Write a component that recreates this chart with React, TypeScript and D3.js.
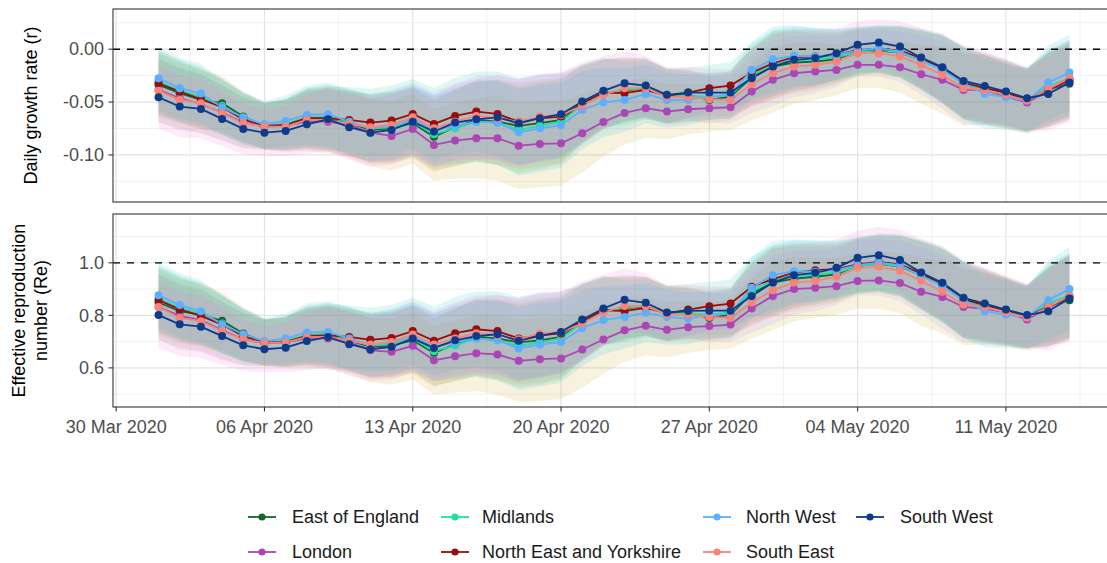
import React from 'react';
import * as d3 from 'd3';

// regions in legend / drawing order
const regions = [
  'East of England',
  'London',
  'Midlands',
  'North East and Yorkshire',
  'North West',
  'South East',
  'South West',
];
const lineColors = ['#15652a', '#ad45b5', '#1fe0a2', '#990d0d', '#58b0ff', '#fa8378', '#0c3b8c'];
const ribbonColors = ['#F8766D', '#C49A00', '#53B400', '#00C094', '#00B6EB', '#A58AFF', '#FB61D7'];

const dates = d3.utcDays(new Date(Date.UTC(2020, 3, 1)), new Date(Date.UTC(2020, 4, 15)));
const tickDates = d3.utcMondays(new Date(Date.UTC(2020, 2, 30)), new Date(Date.UTC(2020, 4, 12)));

// daily growth rate r, 1 Apr .. 14 May
const growthEast = [-0.0338, -0.0416, -0.048, -0.0511, -0.0637, -0.0726, -0.0716, -0.0663, -0.0663, -0.07, -0.0763, -0.0748, -0.07, -0.0827, -0.0738, -0.0669, -0.0685, -0.0726, -0.07, -0.0669, -0.0517, -0.0423, -0.0391, -0.0369, -0.0442, -0.0432, -0.048, -0.0448, -0.0265, -0.0164, -0.0126, -0.0117, -0.0095, -0.0022, -0.0013, -0.0032, -0.0101, -0.0189, -0.0322, -0.0369, -0.0416, -0.048, -0.0379, -0.0328];
const growthLondon = [-0.0385, -0.0464, -0.0517, -0.0599, -0.0694, -0.0732, -0.0726, -0.0685, -0.0685, -0.0716, -0.0789, -0.082, -0.0754, -0.0905, -0.0864, -0.0842, -0.0842, -0.0912, -0.0896, -0.089, -0.0795, -0.0688, -0.0603, -0.0558, -0.059, -0.0568, -0.0558, -0.0549, -0.0401, -0.029, -0.0227, -0.0211, -0.0196, -0.0148, -0.0148, -0.017, -0.0237, -0.029, -0.0385, -0.0385, -0.0448, -0.0505, -0.0391, -0.0297];
const growthMidlands = [-0.0306, -0.0391, -0.0448, -0.0536, -0.065, -0.0726, -0.0707, -0.0644, -0.0637, -0.0694, -0.0748, -0.0738, -0.0685, -0.0805, -0.0748, -0.0685, -0.0694, -0.0763, -0.0726, -0.0685, -0.0527, -0.0423, -0.0385, -0.0369, -0.0442, -0.0442, -0.0448, -0.0432, -0.0252, -0.0139, -0.0107, -0.0095, -0.0076, -0.0032, -0.0006, -0.0032, -0.0101, -0.0189, -0.0322, -0.0385, -0.0432, -0.048, -0.0353, -0.0274];
const growthNorthEast = [-0.0322, -0.0401, -0.0473, -0.0549, -0.0663, -0.0726, -0.0716, -0.0653, -0.0653, -0.0669, -0.0694, -0.0675, -0.0612, -0.0707, -0.0631, -0.059, -0.0612, -0.0685, -0.0653, -0.0637, -0.0511, -0.041, -0.0416, -0.0385, -0.0442, -0.041, -0.0369, -0.0344, -0.0221, -0.0133, -0.0076, -0.0069, -0.0054, -0.0006, 0.0, -0.0013, -0.0085, -0.018, -0.0316, -0.0369, -0.041, -0.048, -0.0385, -0.029];
const growthNorthWest = [-0.0274, -0.0369, -0.042, -0.0549, -0.0644, -0.071, -0.0678, -0.0622, -0.0615, -0.0685, -0.0748, -0.0726, -0.0663, -0.077, -0.0726, -0.0685, -0.0694, -0.0786, -0.0748, -0.0719, -0.0574, -0.0502, -0.048, -0.0423, -0.048, -0.048, -0.0448, -0.0432, -0.0196, -0.0095, -0.0063, -0.0069, -0.0054, -0.0013, 0.0009, -0.0022, -0.0107, -0.0196, -0.0322, -0.0423, -0.0454, -0.0486, -0.0316, -0.0221];
const growthSouthEast = [-0.0394, -0.048, -0.0511, -0.0606, -0.07, -0.0732, -0.0732, -0.0669, -0.0669, -0.0707, -0.0738, -0.0716, -0.0644, -0.0748, -0.0685, -0.0631, -0.0653, -0.0685, -0.0637, -0.0622, -0.0536, -0.0432, -0.0369, -0.0369, -0.0454, -0.0454, -0.0473, -0.048, -0.0331, -0.0227, -0.0164, -0.0148, -0.0117, -0.0038, -0.0038, -0.0069, -0.0148, -0.0243, -0.0369, -0.0385, -0.0432, -0.0486, -0.0375, -0.0274];
const growthSouthWest = [-0.0454, -0.0543, -0.0565, -0.0659, -0.0754, -0.0789, -0.0773, -0.071, -0.0663, -0.0738, -0.0789, -0.0763, -0.0685, -0.0779, -0.0694, -0.0663, -0.0644, -0.07, -0.0653, -0.0615, -0.0495, -0.0394, -0.0322, -0.0344, -0.0432, -0.041, -0.041, -0.041, -0.0274, -0.0164, -0.0101, -0.0085, -0.0038, 0.0041, 0.0063, 0.0025, -0.0079, -0.017, -0.03, -0.0347, -0.0401, -0.0464, -0.0423, -0.0316];
// half width of the credible interval ribbon for r
const growthHalfWidth = [0.03, 0.029, 0.028, 0.026, 0.024, 0.022, 0.024, 0.028, 0.03, 0.031, 0.032, 0.033, 0.033, 0.034, 0.036, 0.038, 0.04, 0.041, 0.041, 0.04, 0.037, 0.033, 0.03, 0.028, 0.026, 0.024, 0.022, 0.022, 0.027, 0.031, 0.029, 0.027, 0.024, 0.022, 0.022, 0.024, 0.028, 0.032, 0.034, 0.033, 0.031, 0.03, 0.035, 0.036];

// effective reproduction number Re
const reEast = [0.849, 0.816, 0.803, 0.779, 0.731, 0.697, 0.699, 0.718, 0.719, 0.705, 0.68, 0.686, 0.705, 0.657, 0.69, 0.718, 0.712, 0.697, 0.705, 0.718, 0.775, 0.816, 0.826, 0.835, 0.807, 0.811, 0.79, 0.803, 0.883, 0.925, 0.94, 0.947, 0.956, 0.989, 0.996, 0.986, 0.953, 0.915, 0.858, 0.839, 0.817, 0.794, 0.835, 0.858];
const reLondon = [0.832, 0.798, 0.782, 0.743, 0.709, 0.694, 0.697, 0.712, 0.712, 0.697, 0.667, 0.661, 0.684, 0.629, 0.644, 0.656, 0.651, 0.627, 0.633, 0.636, 0.67, 0.708, 0.743, 0.76, 0.745, 0.755, 0.759, 0.765, 0.826, 0.874, 0.9, 0.905, 0.911, 0.931, 0.933, 0.923, 0.89, 0.87, 0.832, 0.826, 0.811, 0.784, 0.829, 0.87];
const reMidlands = [0.864, 0.829, 0.807, 0.769, 0.724, 0.697, 0.703, 0.727, 0.729, 0.708, 0.686, 0.69, 0.712, 0.663, 0.686, 0.712, 0.705, 0.684, 0.697, 0.712, 0.773, 0.816, 0.829, 0.835, 0.807, 0.807, 0.803, 0.811, 0.89, 0.934, 0.949, 0.956, 0.963, 0.986, 0.997, 0.987, 0.953, 0.915, 0.858, 0.832, 0.813, 0.794, 0.845, 0.877];
const reNorthEast = [0.858, 0.823, 0.798, 0.765, 0.721, 0.697, 0.699, 0.722, 0.724, 0.718, 0.707, 0.714, 0.74, 0.703, 0.732, 0.747, 0.74, 0.712, 0.724, 0.731, 0.778, 0.82, 0.816, 0.829, 0.807, 0.822, 0.835, 0.845, 0.909, 0.938, 0.963, 0.972, 0.976, 0.994, 1.004, 0.994, 0.959, 0.921, 0.862, 0.839, 0.82, 0.797, 0.832, 0.87];
const reNorthWest = [0.877, 0.839, 0.816, 0.765, 0.728, 0.702, 0.712, 0.735, 0.737, 0.712, 0.686, 0.697, 0.721, 0.68, 0.697, 0.712, 0.705, 0.674, 0.689, 0.699, 0.752, 0.782, 0.794, 0.81, 0.794, 0.788, 0.801, 0.807, 0.905, 0.953, 0.968, 0.966, 0.972, 0.991, 1.001, 0.991, 0.95, 0.912, 0.858, 0.816, 0.803, 0.793, 0.858, 0.9];
const reSouthEast = [0.832, 0.79, 0.778, 0.74, 0.708, 0.695, 0.697, 0.717, 0.718, 0.703, 0.689, 0.699, 0.727, 0.689, 0.712, 0.732, 0.724, 0.709, 0.731, 0.737, 0.769, 0.811, 0.836, 0.835, 0.803, 0.803, 0.794, 0.79, 0.849, 0.896, 0.925, 0.931, 0.947, 0.981, 0.985, 0.97, 0.931, 0.89, 0.841, 0.832, 0.811, 0.792, 0.832, 0.874];
const reSouthWest = [0.801, 0.766, 0.757, 0.721, 0.686, 0.671, 0.677, 0.702, 0.718, 0.69, 0.671, 0.68, 0.712, 0.676, 0.705, 0.721, 0.728, 0.703, 0.722, 0.737, 0.784, 0.826, 0.859, 0.848, 0.811, 0.817, 0.818, 0.818, 0.874, 0.925, 0.953, 0.962, 0.981, 1.019, 1.029, 1.011, 0.963, 0.924, 0.867, 0.845, 0.822, 0.801, 0.816, 0.864];
const reHalfWidth = [0.125, 0.122, 0.118, 0.11, 0.1, 0.088, 0.095, 0.11, 0.118, 0.12, 0.122, 0.125, 0.128, 0.13, 0.138, 0.145, 0.152, 0.158, 0.16, 0.155, 0.145, 0.13, 0.12, 0.112, 0.105, 0.098, 0.092, 0.092, 0.115, 0.13, 0.122, 0.115, 0.108, 0.105, 0.108, 0.115, 0.13, 0.14, 0.145, 0.138, 0.128, 0.12, 0.15, 0.16];

const growthSeries = [growthEast, growthLondon, growthMidlands, growthNorthEast, growthNorthWest, growthSouthEast, growthSouthWest];
const reSeries = [reEast, reLondon, reMidlands, reNorthEast, reNorthWest, reSouthEast, reSouthWest];

const growthTicks = [-0.1, -0.05, 0];
const growthMinor = [-0.125, -0.075, -0.025, 0.025];
const reTicks = [0.6, 0.8, 1.0];
const reMinor = [0.5, 0.7, 0.9, 1.1];

const W = 1107;
const H = 563;
const FONT = "'Liberation Sans', Arial, sans-serif";
const FS = 18;
const left = 113;
const right = 1115;

const span = +dates[dates.length - 1] - +dates[0];
const x = d3.scaleUtc()
  .domain([new Date(+dates[0] - 0.05 * span), new Date(+dates[dates.length - 1] + 0.05 * span)])
  .range([left, right]);

const minorDates = tickDates.map(d => d3.utcHour.offset(d, 84));
const fmtDate = d3.utcFormat('%d %b %Y');

interface PanelProps {
  top: number;
  bottom: number;
  domain: [number, number];
  series: number[][];
  half: number[];
  ticks: number[];
  minor: number[];
  digits: number;
  ref: number;
  showX: boolean;
}

const Panel: React.FC<PanelProps> = ({ top, bottom, domain, series, half, ticks, minor, digits, ref, showX }) => {
  const y = d3.scaleLinear().domain(domain).range([bottom, top]);

  const area = (h: number[]) => d3.area<number>()
    .x((_, i) => x(dates[i]))
    .y0((v, i) => y(v - h[i]))
    .y1((v, i) => y(v + h[i]));

  const line = d3.line<number>()
    .x((_, i) => x(dates[i]))
    .y(v => y(v));

  return (
    <g>
      {/* grid */}
      {minor.map(v => (
        <line key={'ym' + v} x1={left} x2={right} y1={y(v)} y2={y(v)} stroke="#eeeeee" strokeWidth={0.8} />
      ))}
      {minorDates.map(d => (
        <line key={'xm' + +d} x1={x(d)} x2={x(d)} y1={top} y2={bottom} stroke="#eeeeee" strokeWidth={0.8} />
      ))}
      {ticks.map(v => (
        <line key={'y' + v} x1={left} x2={right} y1={y(v)} y2={y(v)} stroke="#e3e3e3" strokeWidth={1.2} />
      ))}
      {tickDates.map(d => (
        <line key={'x' + +d} x1={x(d)} x2={x(d)} y1={top} y2={bottom} stroke="#e3e3e3" strokeWidth={1.2} />
      ))}

      {/* ribbons */}
      {series.map((s, k) => (
        <path key={'r' + k} d={area(half)(s) || ''} fill={ribbonColors[k]} fillOpacity={0.13} />
      ))}

      <line x1={left} x2={right} y1={y(ref)} y2={y(ref)} stroke="#000" strokeWidth={1.4} strokeDasharray="7 7" />

      {series.map((s, k) => (
        <path key={'l' + k} d={line(s) || ''} fill="none" stroke={lineColors[k]} strokeWidth={1.8} />
      ))}
      {series.map((s, k) => (
        <g key={'p' + k} fill={lineColors[k]}>
          {s.map((v, i) => (
            <circle key={i} cx={x(dates[i])} cy={y(v)} r={4} />
          ))}
        </g>
      ))}

      <rect x={left} y={top} width={right - left} height={bottom - top} fill="none" stroke="#333" strokeWidth={1.1} />

      {/* y axis */}
      {ticks.map(v => (
        <g key={'yt' + v}>
          <line x1={left - 4.5} x2={left} y1={y(v)} y2={y(v)} stroke="#333" strokeWidth={1.1} />
          <text x={left - 9} y={y(v)} dy="0.35em" textAnchor="end" fontSize={FS} fill="#4d4d4d">
            {v.toFixed(digits)}
          </text>
        </g>
      ))}

      {/* x axis */}
      {showX && tickDates.map(d => (
        <g key={'xt' + +d}>
          <line x1={x(d)} x2={x(d)} y1={bottom} y2={bottom + 4.5} stroke="#333" strokeWidth={1.1} />
          <text x={x(d)} y={bottom + 20} dy="0.35em" textAnchor="middle" fontSize={FS} fill="#4d4d4d">
            {fmtDate(d)}
          </text>
        </g>
      ))}
    </g>
  );
};

const legendKeyX = [248, 441, 703, 856];
const legendTextX = [292, 482, 746, 900];
const legendRowY = [517, 552];

export default function App() {
  return (
    <div style={{ position: 'absolute', left: 0, top: 0 }}>
      <svg width={W} height={H} style={{ display: 'block', fontFamily: FONT }}>
        <rect width={W} height={H} fill="#fff" />
        <Panel top={9} bottom={202} domain={[-0.1445, 0.038]} series={growthSeries} half={growthHalfWidth}
          ticks={growthTicks} minor={growthMinor} digits={2} ref={0} showX={false} />
        <Panel top={214} bottom={407} domain={[0.451, 1.186]} series={reSeries} half={reHalfWidth}
          ticks={reTicks} minor={reMinor} digits={1} ref={1} showX={true} />

        <text transform="translate(31,105.5) rotate(-90)" dy="0.35em" textAnchor="middle" fontSize={FS} fill="#000">
          Daily growth rate (r)
        </text>
        <text transform="translate(19,310.5) rotate(-90)" dy="0.35em" textAnchor="middle" fontSize={FS} fill="#000">
          Effective reproduction
        </text>
        <text transform="translate(41,310.5) rotate(-90)" dy="0.35em" textAnchor="middle" fontSize={FS} fill="#000">
          number (Re)
        </text>

        {regions.map((name, k) => {
          const col = Math.floor(k / 2);
          const row = k % 2;
          const ly = legendRowY[row];
          const kx = legendKeyX[col];
          return (
            <g key={name}>
              <line x1={kx} x2={kx + 28} y1={ly} y2={ly} stroke={lineColors[k]} strokeWidth={1.8} />
              <circle cx={kx + 14} cy={ly} r={3.6} fill={lineColors[k]} />
              <text x={legendTextX[col]} y={ly} dy="0.35em" fontSize={FS} fill="#1a1a1a">{name}</text>
            </g>
          );
        })}
      </svg>
    </div>
  );
}
